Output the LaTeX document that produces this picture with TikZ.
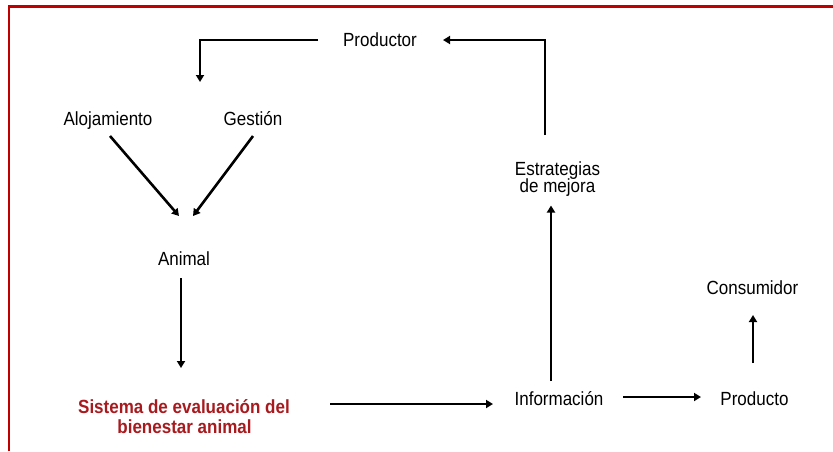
\documentclass[tikz,border=0pt]{standalone}
\usepackage{fontspec}
\setmainfont{Liberation Sans}
\usetikzlibrary{arrows.meta,calc}
\definecolor{frame}{RGB}{192,0,0}
\definecolor{darkred}{RGB}{168,26,30}
\newcommand{\Tx}[1]{\scalebox{1}[1.12]{#1}}
\begin{document}
\begin{tikzpicture}[x=1pt,y=-1pt,
  lbl/.style={inner sep=0pt,anchor=base,font=\fontsize{17}{20}\selectfont},
  red/.style={lbl,text=darkred,font=\fontsize{17}{20}\selectfont\bfseries},
  arr/.style={line width=2.6pt,-{Triangle[length=7pt,width=8pt]}}]
\useasboundingbox (0,0) rectangle (833,451);
\fill[white] (0,0) rectangle (833,451);
% frame
\draw[frame,line width=2.2pt] (9,451) -- (9,6.5) -- (833,6.5);
% nodes
\node[lbl] (prod) at (380,46.5) {\Tx{Productor}};
\node[lbl] (aloj) at (108,125) {\Tx{Alojamiento}};
\node[lbl] (gest) at (253,125) {\Tx{Gestión}};
\node[lbl] (anim) at (184,265) {\Tx{Animal}};
\node[red] (sist1) at (184,413) {\Tx{Sistema de evaluación del}};
\node[red] (sist2) at (184.5,433) {\Tx{bienestar animal}};
\node[lbl] (info) at (559,405) {\Tx{Información}};
\node[lbl] (pdto) at (754.5,405) {\Tx{Producto}};
\node[lbl] (cons) at (752.5,294) {\Tx{Consumidor}};
\node[lbl] (estr1) at (557.5,175) {\Tx{Estrategias}};
\node[lbl] (estr2) at (557.5,192.5) {\Tx{de mejora}};
% helper coordinate
\coordinate (top) at (200,82);
% connectors
\draw[arr] ($(prod.base)+(-62,-6.5)$) -| (top);
\draw[arr] ($(aloj.base)+(2,11)$) -- ($(anim.base)+(-5,-49)$);
\draw[arr] ($(gest.base)+(0,11)$) -- ($(anim.base)+(9,-49)$);
\draw[arr] ($(anim.base)+(-3,13)$) -- ($(sist1.base)+(-3,-45)$);
\draw[arr] ($(sist1.base)+(146,-9)$) -- ($(info.base)+(-66,-1)$);
\draw[arr] ($(info.base)+(64,-8)$) -- ($(pdto.base)+(-53.5,-8)$);
\draw[arr] ($(pdto.base)+(-1.5,-42)$) -- ($(cons.base)+(0.5,21)$);
\draw[arr] ($(info.base)+(-8,-24)$) -- ($(estr2.base)+(-6.5,13)$);
\draw[arr] ($(estr1.base)+(-12.5,-40)$) |- ($(prod.base)+(63,-6.5)$);
\end{tikzpicture}
\end{document}
